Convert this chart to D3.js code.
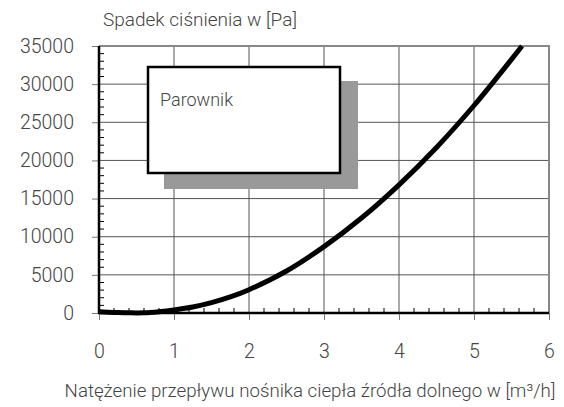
<!DOCTYPE html>
<html>
<head>
<meta charset="utf-8">
<script src="https://cdn.jsdelivr.net/npm/d3@7"></script>
<style>
  body { margin: 0; background: #fff; }
  text { font-family: Roboto, "Liberation Sans", sans-serif; font-weight: 300; fill: #444; }
</style>
</head>
<body>
<svg id="chart" width="564" height="407"></svg>
<script>
// flow [m3/h] and pressure drop [Pa]
const flow = [0, 0.2, 0.4, 0.6, 0.8, 1, 1.25, 1.5, 1.75, 2, 2.5, 3, 3.5, 4, 4.5, 5, 5.5, 5.64];
const drop = [150, 80, 20, 20, 170, 400, 780, 1350, 2100, 3050, 5500, 8700, 12450, 16800, 21700, 27200, 33250, 35000];
const xTicks = [0, 1, 2, 3, 4, 5, 6];
const yTicks = [0, 5000, 10000, 15000, 20000, 25000, 30000, 35000];
const legendLabel = "Parownik";
const yTitle = "Spadek ciśnienia w [Pa]";
const xTitle = "Natężenie przepływu nośnika ciepła źródła dolnego w [m³/h]";

const svg = d3.select("#chart");
const x = d3.scaleLinear().domain([0, 6]).range([99, 549]);
const y = d3.scaleLinear().domain([0, 35000]).range([313, 46]);

// grid
svg.append("g").selectAll("line").data(xTicks.slice(1, -1)).join("line")
  .attr("x1", d => x(d)).attr("x2", d => x(d)).attr("y1", y(0)).attr("y2", y(35000))
  .attr("stroke", "#555").attr("stroke-width", 1);
svg.append("g").selectAll("line").data(yTicks.slice(1, -1)).join("line")
  .attr("x1", x(0)).attr("x2", x(6)).attr("y1", d => y(d)).attr("y2", d => y(d))
  .attr("stroke", "#555").attr("stroke-width", 1);

// top / right frame
svg.append("path")
  .attr("d", `M${x(0)},${y(35000)}H${x(6)}V${y(0)}`)
  .attr("fill", "none").attr("stroke", "#888").attr("stroke-width", 2);

// legend box with shadow
svg.append("rect").attr("x", 164).attr("y", 81).attr("width", 194).attr("height", 108).attr("fill", "#999");
svg.append("rect").attr("x", 148).attr("y", 67).attr("width", 192).attr("height", 106)
  .attr("fill", "#fff").attr("stroke", "#000").attr("stroke-width", 2.5);
svg.append("text").attr("x", 160).attr("y", 106).attr("font-size", 18).text(legendLabel);

// minor ticks
const yMinor = d3.range(1000, 35000, 1000).filter(v => v % 5000 !== 0);
svg.append("g").selectAll("line").data(yMinor).join("line")
  .attr("x1", x(0)).attr("x2", x(0) + 5).attr("y1", d => y(d)).attr("y2", d => y(d))
  .attr("stroke", "#000").attr("stroke-width", 1);
const xMinor = d3.range(1, 30).map(i => i * 0.2).filter(v => Math.abs(v - Math.round(v)) > 1e-6);
svg.append("g").selectAll("line").data(xMinor).join("line")
  .attr("x1", d => x(d)).attr("x2", d => x(d)).attr("y1", y(0)).attr("y2", y(0) - 5)
  .attr("stroke", "#000").attr("stroke-width", 1);

// axes
const yAxis = svg.append("g").attr("transform", `translate(${x(0)},0)`)
  .call(d3.axisLeft(y).tickValues(yTicks).tickFormat(d3.format("d")).tickSize(7).tickPadding(18));
const xAxis = svg.append("g").attr("transform", `translate(0,${y(0)})`)
  .call(d3.axisBottom(x).tickValues(xTicks).tickFormat(d3.format("d")).tickSize(7).tickPadding(24));
[yAxis, xAxis].forEach(a => {
  a.select(".domain").remove();
  a.selectAll(".tick line").attr("stroke", "#777").attr("stroke-width", 1);
  a.selectAll(".tick text").attr("font-size", 19.5).attr("fill", "#444")
    .style("font-family", 'Roboto, "Liberation Sans", sans-serif');
});
svg.append("line").attr("x1", x(0)).attr("x2", x(0)).attr("y1", y(35000)).attr("y2", y(0) + 1)
  .attr("stroke", "#000").attr("stroke-width", 2.5);
svg.append("line").attr("x1", x(0) - 1).attr("x2", x(6)).attr("y1", y(0)).attr("y2", y(0))
  .attr("stroke", "#000").attr("stroke-width", 2.5);

// curve
const pts = flow.map((f, i) => [f, drop[i]]);
svg.append("path").datum(pts)
  .attr("d", d3.line().x(d => x(d[0])).y(d => y(d[1])).curve(d3.curveCatmullRom.alpha(0.5)))
  .attr("fill", "none").attr("stroke", "#000").attr("stroke-width", 5);

// titles
svg.append("text").attr("x", 103).attr("y", 26).attr("font-size", 19).text(yTitle);
svg.append("text").attr("x", 310).attr("y", 397).attr("text-anchor", "middle").attr("font-size", 18.7).text(xTitle);
</script>
</body>
</html>
